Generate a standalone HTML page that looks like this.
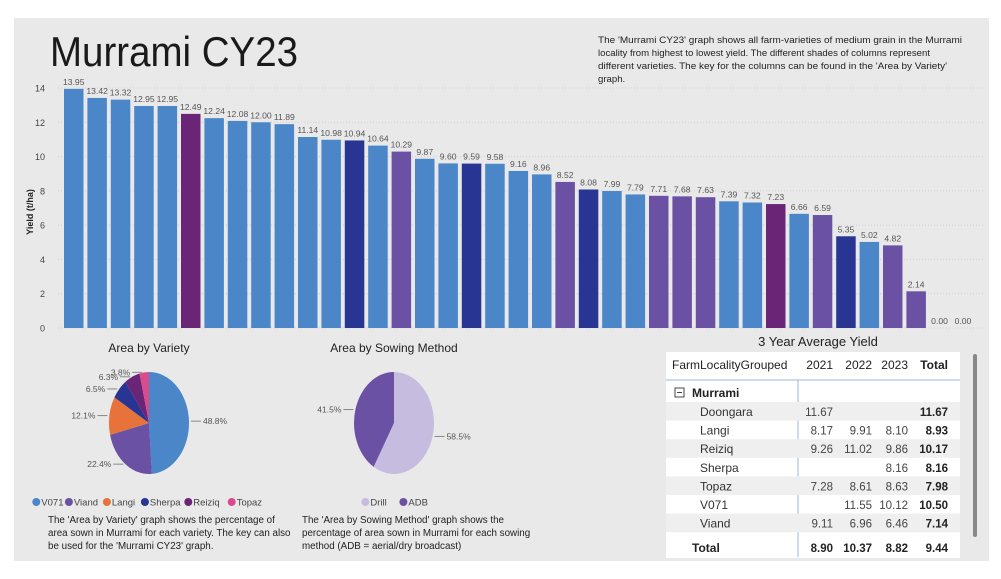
<!DOCTYPE html>
<html><head><meta charset="utf-8"><style>
body{margin:0;background:#fff;width:1001px;height:579px;overflow:hidden;font-family:"Liberation Sans",sans-serif}
svg{display:block}
</style></head><body>
<svg id="c" width="1001" height="579" xmlns="http://www.w3.org/2000/svg" font-family="Liberation Sans, sans-serif">
<rect x="14" y="18" width="975" height="543" fill="#e9e9e9"/>
<text x="50" y="66" font-size="42" fill="#1a1a1a" textLength="248" lengthAdjust="spacingAndGlyphs">Murrami CY23</text>
<g font-size="9.6" fill="#222">
<text x="598" y="43" textLength="364" lengthAdjust="spacingAndGlyphs">The 'Murrami CY23' graph shows all farm-varieties of medium grain in the Murrami</text>
<text x="598" y="56" textLength="332" lengthAdjust="spacingAndGlyphs">locality from highest to lowest yield. The different shades of columns represent</text>
<text x="598" y="69" textLength="349" lengthAdjust="spacingAndGlyphs">different varieties. The key for the columns can be found in the 'Area by Variety'</text>
<text x="598" y="82">graph.</text>
</g>
<g id="bars"></g>
<text transform="translate(33,212) rotate(-90)" font-size="9" font-weight="bold" fill="#222" text-anchor="middle">Yield (t/ha)</text>

<text x="149" y="352" font-size="12" fill="#222" text-anchor="middle">Area by Variety</text>
<text x="394" y="352" font-size="12" fill="#222" text-anchor="middle">Area by Sowing Method</text>
<g id="pies"></g>
<g font-size="9.8" fill="#222">
<text x="48" y="523">The 'Area by Variety' graph shows the percentage of</text>
<text x="48" y="536">area sown in Murrami for each variety. The key can also</text>
<text x="48" y="549">be used for the 'Murrami CY23' graph.</text>
</g>
<g font-size="9.8" fill="#222">
<text x="302" y="523">The 'Area by Sowing Method' graph shows the</text>
<text x="302" y="536">percentage of area sown in Murrami for each sowing</text>
<text x="302" y="549">method (ADB = aerial/dry broadcast)</text>
</g>

<text x="818" y="346" font-size="13" fill="#222" text-anchor="middle">3 Year Average Yield</text>
<rect x="666" y="352" width="294" height="206" fill="#fff"/>
<rect x="973" y="354" width="4" height="183" rx="2" fill="#888"/>
<g id="tbl"></g>
</svg>
<script>
const labels=[13.95,13.42,13.32,12.95,12.95,12.49,12.24,12.08,12.00,11.89,11.14,10.98,10.94,10.64,10.29,9.87,9.60,9.59,9.58,9.16,8.96,8.52,8.08,7.99,7.79,7.71,7.68,7.63,7.39,7.32,7.23,6.66,6.59,5.35,5.02,4.82,2.14,0,0];
const barVariety=["V071","V071","V071","V071","V071","Reiziq","V071","V071","V071","V071","V071","V071","Sherpa","V071","Viand","V071","V071","Sherpa","V071","V071","V071","Viand","Sherpa","V071","V071","Viand","Viand","Viand","V071","V071","Reiziq","V071","Viand","Sherpa","V071","Viand","Viand","V071","V071"];
const yTicks=[0,2,4,6,8,10,12,14];
const varieties=["V071","Viand","Langi","Sherpa","Reiziq","Topaz"];
const varietyShare=[48.8,22.4,12.1,6.5,6.3,3.8];
const methods=["Drill","ADB"];
const methodShare=[58.5,41.5];
const tblRows=["Doongara","Langi","Reiziq","Sherpa","Topaz","V071","Viand"];
const y2021=["11.67","8.17","9.26","","7.28","","9.11"];
const y2022=["","9.91","11.02","","8.61","11.55","6.96"];
const y2023=["","8.10","9.86","8.16","8.63","10.12","6.46"];
const yTotal=["11.67","8.93","10.17","8.16","7.98","10.50","7.14"];
const colTotals=["8.90","10.37","8.82","9.44"];

const colors={V071:"#4a86c8",Viand:"#6b51a3",Langi:"#e8733a",Sherpa:"#283593",Reiziq:"#6b2577",Topaz:"#d94b8c",Drill:"#c6bce0",ADB:"#6b51a3"};
const NS="http://www.w3.org/2000/svg";
function mk(tag,attrs,parent,txt){const e=document.createElementNS(NS,tag);for(const k in attrs)e.setAttribute(k,attrs[k]);if(txt!==undefined)e.textContent=txt;parent.appendChild(e);return e;}
const y=v=>328-v*(240/14);
const x=i=>64+i*23.4;
const bw=19.5;
const bars=document.getElementById('bars');
yTicks.forEach(t=>{
  const g=mk('line',{x1:58,x2:985,y1:y(t),y2:y(t),stroke:'#cfcfcf','stroke-dasharray':'1,2'},bars);
  
  
  const l=mk('text',{x:45,y:y(t)+3.5,'font-size':9,fill:'#444','text-anchor':'end'},bars,String(t));
  
  
});
labels.forEach((v,i)=>{
  if(v>0){const r=mk('rect',{x:x(i),y:y(v),width:bw,height:328-y(v),fill:colors[barVariety[i]]},bars);
  
  }
  const t=mk('text',{x:x(i)+bw/2,y:y(v)-4,'font-size':8.6,fill:'#555','text-anchor':'middle'},bars,v.toFixed(2));
  
  
});
const pies=document.getElementById('pies');
function pie(cx,cy,names,vals,lblSide){
  let a=0;const tot=vals.reduce((s,v)=>s+v,0);
  vals.forEach((v,i)=>{
    const a0=a/tot*2*Math.PI,a1=(a+v)/tot*2*Math.PI;a+=v;
    const p=(an)=>[cx+40*Math.sin(an),cy-51*Math.cos(an)];
    const [x0,y0]=p(a0),[x1,y1]=p(a1);
    const s=mk('path',{d:`M${cx},${cy}L${x0},${y0}A40,51 0 ${a1-a0>Math.PI?1:0} 1 ${x1},${y1}Z`,fill:colors[names[i]]},pies);
    
    
    const m=(a0+a1)/2;const [ex,ey]=p(m);
    const right=Math.sin(m)>=0;
    const lx=right?ex+12:ex-12;
    mk('line',{x1:ex+(right?2:-2),y1:ey,x2:lx,y2:ey,stroke:'#888'},pies);
    const t=mk('text',{x:right?lx+2:lx-2,y:ey+3,'font-size':8.5,fill:'#555','text-anchor':right?'start':'end'},pies,v.toFixed(1)+'%');
    
    
  });
}
pie(149,423,varieties,varietyShare);
pie(394,423,methods,methodShare);
function legend(cx,names){
  const widths=names.map(n=>n.length*5.4+11);const total=widths.reduce((s,w)=>s+w,0);
  let lx=cx-total/2;
  names.forEach((n,i)=>{
    const g=mk('g',{},pies);
    
    
    mk('circle',{cx:lx+4,cy:502,r:4,fill:colors[n]},g);
    mk('text',{x:lx+9,y:505.5,'font-size':9.5,fill:'#444'},g,n);
    lx+=widths[i];
  });
}
legend(149,varieties);legend(394,methods);

const tbl=document.getElementById('tbl');
const colX=[833,872,908,948];
mk('text',{x:672,y:369,'font-size':12,fill:'#222'},tbl,'FarmLocalityGrouped');
['2021','2022','2023'].forEach((h,i)=>mk('text',{x:colX[i],y:369,'font-size':12,fill:'#222','text-anchor':'end'},tbl,h));
mk('text',{x:colX[3],y:369,'font-size':12,'font-weight':'bold',fill:'#222','text-anchor':'end'},tbl,'Total');
mk('line',{x1:666,x2:960,y1:380,y2:380,stroke:'#9bb7d4'},tbl);
mk('line',{x1:798,x2:798,y1:380,y2:557,stroke:'#9bb7d4'},tbl);
mk('rect',{x:675,y:388,width:9,height:9,fill:'none',stroke:'#444'},tbl);
mk('line',{x1:677,x2:682,y1:392.5,y2:392.5,stroke:'#444'},tbl);
mk('text',{x:692,y:397,'font-size':12,'font-weight':'bold',fill:'#222'},tbl,'Murrami');
tblRows.forEach((r,i)=>{
  const ry=402+i*18.6;
  if(i%2===0) mk('rect',{x:666,y:ry,width:294,height:18.6,fill:'#efefef'},tbl);
  const g=mk('g',{},tbl);
  
  
  mk('text',{x:700,y:ry+14,'font-size':12,fill:'#333'},g,r);
  [y2021[i],y2022[i],y2023[i]].forEach((v,j)=>mk('text',{x:colX[j],y:ry+14,'font-size':11.5,fill:'#444','text-anchor':'end'},g,v));
  mk('text',{x:colX[3],y:ry+14,'font-size':11.5,'font-weight':'bold',fill:'#222','text-anchor':'end'},g,yTotal[i]);
});
mk('text',{x:692,y:552,'font-size':12,'font-weight':'bold',fill:'#222'},tbl,'Total');
colTotals.forEach((v,j)=>mk('text',{x:colX[j],y:552,'font-size':11.5,'font-weight':'bold',fill:'#222','text-anchor':'end'},tbl,v));
</script>
</body></html>
